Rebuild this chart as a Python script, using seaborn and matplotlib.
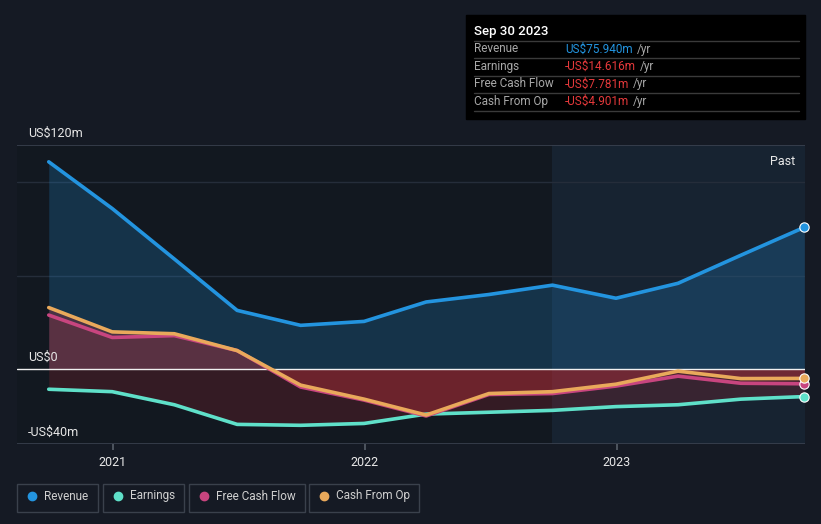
import matplotlib
matplotlib.use("Agg")
import matplotlib.pyplot as plt
import matplotlib.dates as mdates
import seaborn as sns
import pandas as pd
import numpy as np

# ---- data (US$ millions, trailing twelve months) ----
dates = ["2020-09-30", "2020-12-31", "2021-03-31", "2021-06-30", "2021-09-30",
         "2021-12-31", "2022-03-31", "2022-06-30", "2022-09-30", "2022-12-31",
         "2023-03-31", "2023-06-30", "2023-09-30"]
revenue = [111, 86, 59, 31.5, 23.5, 25.6, 36, 40, 45, 38, 46, 61, 75.94]
earnings = [-10.7, -12, -19, -29.5, -30, -29, -24, -23, -22, -20, -19, -16, -14.616]
free_cash_flow = [29, 17, 18, 10, -9.5, -16.5, -25, -13.5, -13, -9, -3.7, -7.5, -7.781]
cash_from_op = [33, 20, 19, 10, -8.5, -16, -24.5, -13, -12, -8, -1, -5, -4.901]
year_ticks = ["2021", "2022", "2023"]
y_labels = ["US$120m", "US$0", "-US$40m"]
y_label_vals = [120, 0, -40]

series_names = ["Revenue", "Earnings", "Free Cash Flow", "Cash From Op"]
colors = {"Revenue": "#2394df", "Earnings": "#5fe0c9",
          "Free Cash Flow": "#c8457f", "Cash From Op": "#e9a95b"}

df = pd.DataFrame({"date": pd.to_datetime(dates), "Revenue": revenue,
                   "Earnings": earnings, "Free Cash Flow": free_cash_flow,
                   "Cash From Op": cash_from_op})
long = df.melt(id_vars="date", var_name="series", value_name="value")

sns.set_theme(style="dark")
plt.rcParams["font.family"] = ["Roboto", "DejaVu Sans"]

BG = "#151a24"
fig = plt.figure(figsize=(8.21, 5.24), dpi=100, facecolor=BG)
ax = fig.add_axes([17 / 821, (524 - 444) / 524, (805 - 17) / 821, (444 - 145) / 524])
ax.set_facecolor("#121820")

x0 = mdates.date2num(pd.Timestamp("2021-01-01")) - 139
x1 = mdates.date2num(pd.Timestamp("2023-10-01"))
ax.set_xlim(x0, x1)
ax.set_ylim(-40, 120)

# past region
ax.axvspan(mdates.date2num(pd.Timestamp("2022-09-30")), x1, color="#172331", zorder=0, lw=0)

# gridlines
for v in [100, 50]:
    ax.axhline(v, color="#252d3a", lw=1, zorder=1)
ax.axhline(120, color="#3a4250", lw=1.2, zorder=1)
ax.axhline(-40, color="#3a4250", lw=1.2, zorder=1)

xd = mdates.date2num(df["date"])
# fills
ax.fill_between(xd, df["Revenue"], 0, color="#2394df", alpha=0.22, lw=0, zorder=2)
ax.fill_between(xd, df["Earnings"], 0, color="#b02a35", alpha=0.22, lw=0, zorder=2)
ax.fill_between(xd, df["Cash From Op"], 0, color="#c0303a", alpha=0.30, lw=0, zorder=2)
ax.fill_between(xd, df["Free Cash Flow"], 0, color="#c0303a", alpha=0.15, lw=0, zorder=2)

ax.axhline(0, color="#f0f0f0", lw=1, zorder=3)

sns.lineplot(data=long, x="date", y="value", hue="series", hue_order=series_names,
             palette=colors, lw=2.6, ax=ax, legend=False, zorder=4,
             solid_joinstyle="round", solid_capstyle="round")

for name in series_names:
    ax.scatter([xd[-1]], [df[name].iloc[-1]], s=45, color=colors[name],
               edgecolor="white", linewidth=0.8, zorder=5, clip_on=False)

# axes styling
for s in ax.spines.values():
    s.set_visible(False)
ax.set_yticks([])
ax.set_xlabel("")
ax.set_ylabel("")
ax.grid(False)
tick_pos = [mdates.date2num(pd.Timestamp(f"{y}-01-01")) for y in year_ticks]
ax.set_xticks(tick_pos)
ax.set_xticklabels(year_ticks, color="#e8e8e8", fontsize=9)
ax.tick_params(axis="x", length=4, color="#555c66", pad=5, bottom=True)

for lbl, v in zip(y_labels, y_label_vals):
    ax.annotate(lbl, xy=(0, v), xycoords=("axes fraction", "data"),
                xytext=(8, 4), textcoords="offset points", color="#e8e8e8",
                fontsize=9, va="bottom", ha="left")

ax.text(0.988, 0.965, "Past", transform=ax.transAxes, color="#e8e8e8",
        fontsize=9, ha="right", va="top")

# tooltip box
W, H = 821, 524
def fx(px): return px / W
def fy(py): return 1 - py / H
fig.patches.append(plt.Rectangle((fx(466), fy(119)), fx(805) - fx(466), fy(15) - fy(119),
                                 transform=fig.transFigure, color="#000000", zorder=5))
fig.text(fx(474), fy(31), "Sep 30 2023", color="white", fontsize=9.5, va="center",
         fontweight="medium", zorder=6)
rows = [("Revenue", "US$75.940m", "#2394df"),
        ("Earnings", "-US$14.616m", "#e5393b"),
        ("Free Cash Flow", "-US$7.781m", "#e5393b"),
        ("Cash From Op", "-US$4.901m", "#e5393b")]
for i, (lab, val, c) in enumerate(rows):
    yy = 49 + i * 17.5
    fig.add_artist(plt.Line2D([fx(474), fx(799)], [fy(yy - 8.5), fy(yy - 8.5)],
                              transform=fig.transFigure, color="#3a3a3a", lw=1, zorder=6))
    fig.text(fx(474), fy(yy), lab, color="#a8a8a8", fontsize=8.5, va="center", zorder=6)
    t = fig.text(fx(565), fy(yy), val, color=c, fontsize=8.5, va="center", zorder=6)
    fig.canvas.draw()
    bb = t.get_window_extent()
    fig.text(bb.x1 / W + fx(4), fy(yy), "/yr", color="#a8a8a8", fontsize=8.5, va="center", zorder=6)
fig.add_artist(plt.Line2D([fx(474), fx(799)], [fy(111), fy(111)],
                          transform=fig.transFigure, color="#3a3a3a", lw=1, zorder=6))

# legend boxes
boxes = [(17, 98), (103, 184), (189, 305), (309, 419)]
for (bx0, bx1), name in zip(boxes, series_names):
    fig.patches.append(plt.Rectangle((fx(bx0), fy(512)), fx(bx1) - fx(bx0), fy(484) - fy(512),
                                     transform=fig.transFigure, facecolor="none",
                                     edgecolor="#3a414c", lw=1, zorder=5))
    fig.add_artist(plt.Line2D([fx(bx0 + 15)], [fy(496)], marker="o", markersize=6,
                              color=colors[name], transform=fig.transFigure, zorder=6))
    fig.text(fx(bx0 + 27), fy(496), name, color="#d0d0d0", fontsize=8.5, va="center", zorder=6)

fig.savefig("out.png", dpi=100, facecolor=BG)
